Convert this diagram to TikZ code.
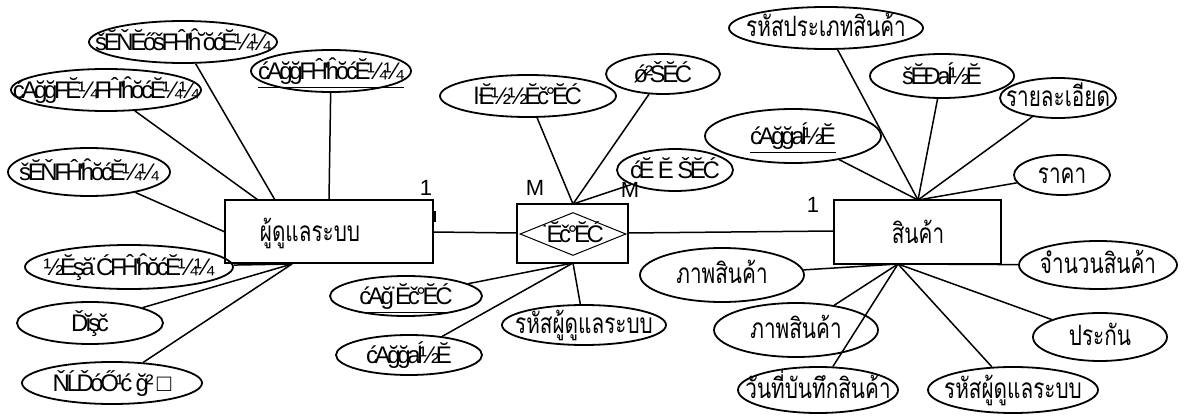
\documentclass[tikz,border=0pt]{standalone}
\usepackage{fontspec}
\setmainfont{Liberation Sans}
\newfontfamily\thaifont[Script=Thai, FakeStretch=0.74]{Loma}
\newfontfamily\garbfont[LetterSpace=-14]{Liberation Sans}
\usetikzlibrary{shapes.geometric}
\newcommand{\zt}[1]{\raisebox{-0.36em}[0pt][0pt]{\makebox[0pt][c]{#1}}}
\newcommand{\zth}[1]{\raisebox{-0.3em}[0pt][0pt]{\makebox[0pt][c]{#1}}}
\tikzset{
  x=0.5pt, y=-0.5pt,
  attr/.style={draw, ellipse, line width=0.9pt, inner sep=0pt, font=\garbfont\fontsize{12}{14}\selectfont},
  tattr/.style={attr, font=\thaifont\fontsize{14}{16}\selectfont},
  ent/.style={draw, rectangle, line width=1pt, inner sep=0pt},
  link/.style={line width=0.75pt},
  card/.style={font=\fontsize{11}{12}\selectfont, inner sep=0pt},
  esz/.style 2 args={minimum width=#1pt, minimum height=#2pt},
}
\begin{document}
\begin{tikzpicture}
\useasboundingbox (0,0) rectangle (1184,417);
% entities
\node[ent, minimum width=104pt, minimum height=31.5pt] (admin) at (329,231.5) {};
\node[font=\thaifont\fontsize{14}{16}\selectfont] (adminlbl) at (310,233) {ผู้ดูแลระบบ};
\node[ent, minimum width=55.5pt, minimum height=29.5pt] (relbox) at (572.5,233.5) {};
\node[draw, diamond, line width=0.5pt, minimum width=53pt, minimum height=21.5pt, inner sep=0pt, font=\garbfont\fontsize{12}{14}\selectfont] (rel) at (573,234) {\zt{˙Ĕč°ĔĆ}};
\node[ent, minimum width=83.5pt, minimum height=32pt] (prod) at (917,232) {};
\node[font=\thaifont\fontsize{14}{16}\selectfont] (prodlbl) at (918,232) {สินค้า};
% anchor coordinates
\coordinate (aT1) at (258,200);
\coordinate (aT2) at (275,200);
\coordinate (aT3) at (329,200);
\coordinate (aL) at (225,232);
\coordinate (aB) at (292,264);
\coordinate (aR) at (433,232);
\coordinate (rT) at (573,204);
\coordinate (rB) at (573,263);
\coordinate (rL) at (517,233);
\coordinate (rR) at (628,233);
\coordinate (pL) at (834,231);
\coordinate (pT) at (918,200);
\coordinate (pB) at (898,264);
% cardinalities
\node[card] (c1) at (426,188) {1};
\node[card] (c2) at (535,188) {M};
\node[card] (c3) at (630,190) {M};
\node[card] (c4) at (813,205) {1};
\draw[line width=1.3pt] (435,211) -- (435,222);
% relationships
\draw[link] (aR) -- (rL);
\draw[link] (rR) -- (pL);
% admin attributes
\node[attr, esz={94}{21}] (a1) at (183,42) {\zt{šĔŇĔőšFĤ'ĥ˘ŏćĔ¼¼}};
\node[attr, esz={95}{21}] (a2) at (106,90) {\zt{ćAğğFĔ¼FĤ'ĥŏćĔ¼¼}};
\node[attr, esz={80}{21}] (a3) at (331,71) {\zt{\underline{ćAğğFĤ'ĥŏćĔ¼¼}}};
\node[attr, esz={81}{24}] (a4) at (89,172) {\zt{šĔŇFĤ'ĥŏćĔ¼¼}};
\node[attr, esz={104}{22}] (a5) at (129,267) {\zt{½Ĕşă˙ĆFĤ'ĥŏćĔ¼¼}};
\node[attr, esz={73}{21}] (a6) at (90,323) {\zt{Ďĭşč}};
\node[attr, esz={90}{21}] (a7) at (112,383) {\zt{ŇĹĎóŐ¹ć ğ² □}};
\draw[link] (a1) -- (aT2);
\draw[link] (a2) -- (aT1);
\draw[link] (a3) -- (aT3);
\draw[link] (a4) -- (aL);
\draw[link] (a5) -- (aB);
\draw[link] (a6) -- (aB);
\draw[link] (a7) -- (aB);
% relationship attributes
\node[attr, esz={88}{21}] (r1) at (528,96) {\zt{ŀĔ½½Ĕč°ĔĆ}};
\node[attr, esz={57}{20}] (r2) at (663,74) {\zt{ǿ²ŠĔĆ}};
\node[attr, esz={58}{21}] (r3) at (675,170) {\zt{ćĔ Ĕ ŠĔĆ}};
\node[attr, esz={76}{20}] (r4) at (406,296) {\zt{\underline{ćAğ˙Ĕč°ĔĆ}}};
\node[tattr, esz={82}{20}] (r5) at (584,325) {\zth{รหัสผู้ดูแลระบบ}};
\node[attr, esz={73}{20}] (r6) at (409,355) {\zt{ćAğğaĺ½Ĕ}};
\draw[link] (r1) -- (rT);
\draw[link] (r2) -- (rT);
\draw[link] (r3) -- (rT);
\draw[link] (r4) -- (rB);
\draw[link] (r5) -- (rB);
\draw[link] (r6) -- (rB);
% product attributes
\node[tattr, esz={97}{21}] (p1) at (826,28) {\zth{รหัสประเภทสินค้า}};
\node[attr, esz={72}{22}] (p2) at (942,76) {\zt{šĔĐaĺ½Ĕ}};
\node[tattr, esz={58}{20}] (p3) at (1058,98) {\zth{รายละเอียด}};
\node[attr, esz={88}{27}] (p4) at (793,136) {\zt{\underline{ćAğğaĺ½Ĕ}}};
\node[tattr, esz={48}{20}] (p5) at (1062,175) {\zth{ราคา}};
\node[tattr, esz={82}{27}] (p6) at (722,275) {\zth{ภาพสินค้า}};
\node[tattr, esz={79}{24}] (p7) at (1098,265) {\zth{จำนวนสินค้า}};
\node[tattr, esz={82}{27}] (p8) at (796,330) {\zth{ภาพสินค้า}};
\node[tattr, esz={67}{24}] (p9) at (1100,337) {\zth{ประกัน}};
\node[tattr, esz={80}{23}] (p10) at (818,390) {\zth{วันที่บันทึกสินค้า}};
\node[tattr, esz={85}{23}] (p11) at (1013,390) {\zth{รหัสผู้ดูแลระบบ}};
\foreach \p in {p1,p2,p3,p4,p5} \draw[link] (\p) -- (pT);
\foreach \p in {p6,p7,p8,p9,p10,p11} \draw[link] (\p) -- (pB);
\end{tikzpicture}
\end{document}
